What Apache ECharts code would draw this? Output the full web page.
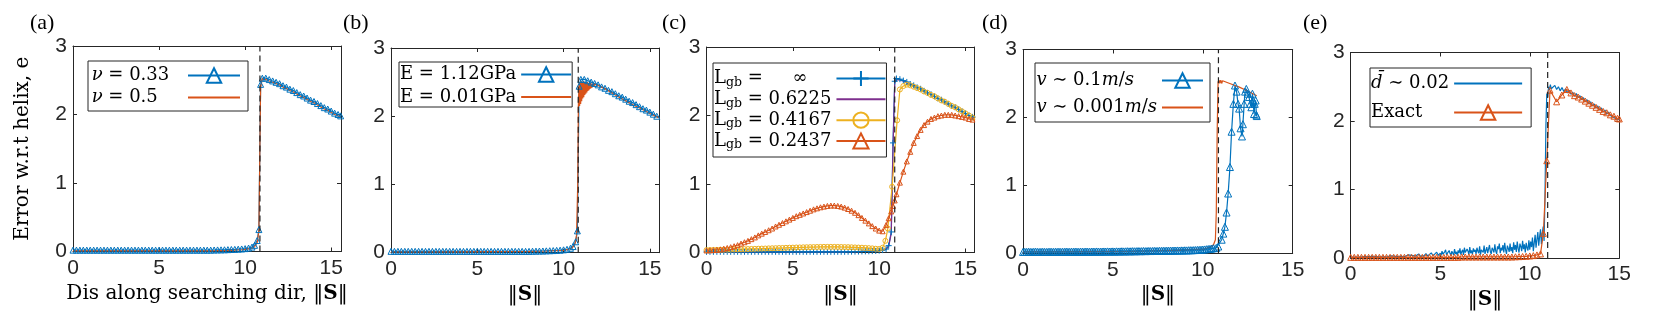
<!DOCTYPE html>
<html><head><meta charset="utf-8">
<script src="https://cdn.jsdelivr.net/npm/echarts@6/dist/echarts.min.js"></script>
<style>html,body{margin:0;padding:0;background:#fff}#c{width:1661px;height:319px}</style>
</head><body><div id="c"></div><script>
// ---------------- DATA ----------------
const xs1 = [0,0.2,0.4,0.6,0.8,1,1.2,1.4,1.6,1.8,2,2.2,2.4,2.6,2.8,3,3.2,3.4,3.6,3.8,4,4.2,4.4,4.6,4.8,5,5.2,5.4,5.6,5.8,6,6.2,6.4,6.6,6.8,7,7.2,7.4,7.6,7.8,8,8.2,8.4,8.6,8.8,9,9.2,9.4,9.6,9.8,10,10.2,10.4,
  10.55,10.7,10.8,10.9,11,
  11.2,11.4,11.6,11.8,12,12.2,12.4,12.6,12.8,13,13.2,13.4,13.6,13.8,14,14.2,14.4,14.6,14.8,15,15.2,15.4,15.55];
// (a)
const aNu033 = [0.02,0.02,0.02,0.02,0.02,0.02,0.02,0.02,0.02,0.02,0.02,0.02,0.02,0.02,0.02,0.02,0.02,0.02,0.02,0.02,0.02,0.02,0.02,0.02,0.02,0.02,0.02,0.02,0.02,0.02,0.02,0.02,0.02,0.02,0.02,0.02,0.02,0.02,0.02,0.02,0.02,
  0.022,0.023,0.024,0.025,0.027,0.029,0.031,0.034,0.037,0.042,0.05,0.065,
  0.09,0.16,0.32,2.44,2.53,
  2.53,2.51,2.49,2.47,2.45,2.42,2.40,2.37,2.35,2.32,2.29,2.27,2.24,2.21,2.19,2.16,2.13,2.10,2.08,2.05,2.02,2.00,1.98];
const aNu05 = [0.01,0.01,0.01,0.01,0.01,0.01,0.01,0.01,0.01,0.01,0.01,0.01,0.01,0.01,0.01,0.01,0.01,0.01,0.01,0.01,0.01,0.01,0.01,0.01,0.01,0.01,0.01,0.01,0.01,0.01,0.01,0.01,0.01,0.01,0.01,0.01,0.01,0.01,0.01,0.01,0.01,
  0.011,0.012,0.013,0.014,0.015,0.017,0.019,0.022,0.025,0.03,0.037,0.05,
  0.07,0.13,0.3,2.4,2.52,
  2.51,2.49,2.47,2.45,2.43,2.40,2.38,2.35,2.33,2.30,2.27,2.25,2.22,2.19,2.17,2.14,2.11,2.08,2.06,2.03,2.00,1.98,1.97];
// (b)
const bE112 = [0.02,0.02,0.02,0.02,0.02,0.02,0.02,0.02,0.02,0.02,0.02,0.02,0.02,0.02,0.02,0.02,0.02,0.02,0.02,0.02,0.02,0.02,0.02,0.02,0.02,0.02,0.02,0.02,0.02,0.02,0.02,0.02,0.02,0.02,0.02,0.02,0.02,0.02,0.02,0.02,0.02,
  0.022,0.023,0.024,0.025,0.027,0.029,0.031,0.034,0.037,0.042,0.05,0.065,
  0.09,0.16,0.32,2.44,2.54,
  2.54,2.52,2.50,2.48,2.46,2.43,2.41,2.38,2.36,2.33,2.30,2.28,2.25,2.22,2.20,2.17,2.14,2.11,2.09,2.06,2.03,2.00,1.98];
const bE001X = [0,2,4,6,8,9,9.6,10,10.3,10.5,10.65,10.75,10.82,10.86,10.9,
  10.93,10.96,10.99,11.02,11.05,11.08,11.11,11.14,11.17,11.2,11.23,11.26,11.29,11.32,11.35,11.38,11.41,11.44,11.47,11.5,11.53,11.56,11.59,11.62,11.65,11.68,11.71,11.74,11.77,11.8,
  11.85,11.9,12,12.5,13,13.5,14,14.5,15,15.5];
const bE001Y = [0.01,0.01,0.012,0.015,0.02,0.025,0.03,0.035,0.05,0.07,0.12,0.25,1.0,2.2,2.5,
  2.15,2.5,2.18,2.51,2.22,2.51,2.26,2.51,2.28,2.51,2.31,2.5,2.33,2.5,2.35,2.5,2.37,2.49,2.38,2.49,2.4,2.49,2.41,2.48,2.42,2.48,2.43,2.47,2.44,2.47,
  2.45,2.46,2.45,2.39,2.31,2.24,2.17,2.11,2.04,1.98];
// (c)
const cInf = [0.01,0.01,0.01,0.01,0.01,0.01,0.01,0.01,0.01,0.01,0.01,0.01,0.01,0.01,0.01,0.01,0.01,0.01,0.01,0.01,0.01,0.01,0.01,0.01,0.01,0.01,0.01,0.01,0.01,0.01,0.01,0.01,0.01,0.01,0.01,0.01,0.01,0.01,0.01,0.01,0.01,
  0.011,0.012,0.013,0.014,0.015,0.016,0.018,0.02,0.023,0.027,0.035,0.05,
  0.1,0.3,1.6,2.5,2.54,
  2.53,2.51,2.49,2.46,2.44,2.41,2.39,2.36,2.33,2.31,2.28,2.25,2.23,2.20,2.17,2.14,2.12,2.09,2.06,2.03,2.00,1.98,1.96];
const c06225 = [0.01,0.01,0.01,0.01,0.01,0.01,0.01,0.01,0.01,0.01,0.01,0.01,0.01,0.01,0.01,0.01,0.01,0.01,0.01,0.01,0.01,0.01,0.01,0.01,0.01,0.01,0.01,0.01,0.01,0.01,0.01,0.01,0.01,0.01,0.01,0.01,0.01,0.01,0.01,0.01,0.01,
  0.011,0.012,0.013,0.014,0.015,0.016,0.018,0.02,0.023,0.027,0.035,0.05,
  0.09,0.28,1.5,2.48,2.52,
  2.52,2.50,2.48,2.45,2.43,2.40,2.38,2.35,2.33,2.30,2.27,2.25,2.22,2.19,2.16,2.14,2.11,2.08,2.05,2.02,2.00,1.97,1.96];
const c04167X = [0,0.2,0.4,0.6,0.8,1,1.2,1.4,1.6,1.8,2,2.2,2.4,2.6,2.8,3,3.2,3.4,3.6,3.8,4,4.2,4.4,4.6,4.8,5,5.2,5.4,5.6,5.8,6,6.2,6.4,6.6,6.8,7,7.2,7.4,7.6,7.8,8,8.2,8.4,8.6,8.8,9,9.2,9.4,9.6,9.8,10,10.2,
  10.36,10.5,10.75,11.04,11.2,
  11.4,11.6,11.8,12,12.2,12.4,12.6,12.8,13,13.2,13.4,13.6,13.8,14,14.2,14.4,14.6,14.8,15,15.2,15.4,15.55];
const c04167 = [0.035,0.036,0.037,0.038,0.04,0.041,0.042,0.043,0.045,0.046,0.047,0.049,0.05,0.052,0.053,0.055,0.057,0.058,0.06,0.062,0.063,0.065,0.066,0.068,0.07,0.071,0.073,0.074,0.076,0.077,0.078,0.079,0.08,0.081,0.082,0.082,0.082,0.082,0.081,0.08,0.079,0.078,0.076,0.074,0.072,0.07,0.067,0.064,0.06,0.055,0.052,0.07,
  0.17,0.35,0.96,1.93,2.38,
  2.43,2.45,2.44,2.42,2.40,2.38,2.35,2.33,2.30,2.28,2.25,2.22,2.20,2.17,2.14,2.12,2.09,2.06,2.03,2.00,1.97,1.94];
const c02437 = [0.03,0.032,0.035,0.039,0.045,0.055,0.066,0.078,0.092,0.107,0.13,0.15,0.17,0.195,0.22,0.25,0.275,0.3,0.325,0.35,0.38,0.405,0.43,0.455,0.48,0.505,0.53,0.55,0.57,0.59,0.61,0.63,0.645,0.66,0.67,0.68,0.685,0.685,0.68,0.67,0.655,0.635,0.61,0.58,0.545,0.505,0.465,0.425,0.385,0.35,0.32,0.31,0.4,
  0.5,0.6,0.68,0.76,0.85,
  1.02,1.18,1.33,1.47,1.6,1.7,1.79,1.86,1.91,1.95,1.97,1.99,2.0,2.01,2.01,2.01,2.0,1.99,1.98,1.97,1.95,1.94,1.93];
// (d)
const dV01X = [0,0.1,0.2,0.3,0.4,0.5,0.6,0.7,0.8,0.9,1,1.1,1.2,1.3,1.4,1.5,1.6,1.7,1.8,1.9,2,2.1,2.2,2.3,2.4,2.5,2.6,2.7,2.8,2.9,3,3.1,3.2,3.3,3.4,3.5,3.6,3.7,3.8,3.9,4,4.1,4.2,4.3,4.4,4.5,4.6,4.7,4.8,4.9,
  5,5.1,5.2,5.3,5.4,5.5,5.6,5.7,5.8,5.9,6,6.1,6.2,6.3,6.4,6.5,6.6,6.7,6.8,6.9,7,7.1,7.2,7.3,7.4,7.5,7.6,7.7,7.8,7.9,8,8.1,8.2,8.3,8.4,8.5,8.6,8.7,8.8,8.9,9,9.1,9.2,9.3,9.4,9.5,9.6,9.7,9.8,9.9,10,10.1,10.2,10.3,10.4,10.5,10.6,
  10.75,10.86,11.05,11.14,11.23,11.32,11.41,11.51,11.6,11.7,11.79,11.88,11.96,12.02,12.1,12.18,12.23,12.3,12.35,12.42,12.5,12.57,12.64,12.7,12.76,12.8,12.85,12.89,12.94,12.98,13.0];
const dV01 = [0.02,0.022,0.02,0.023,0.021,0.02,0.022,0.024,0.021,0.02,0.022,0.023,0.021,0.02,0.022,0.024,0.022,0.021,0.023,0.022,0.024,0.021,0.023,0.022,0.025,0.023,0.022,0.024,0.023,0.025,
  0.024,0.022,0.025,0.024,0.023,0.026,0.024,0.023,0.025,0.026,0.024,0.027,0.025,0.024,0.026,0.027,0.025,0.028,0.026,0.027,
  0.028,0.026,0.029,0.027,0.028,0.03,0.028,0.029,0.031,0.029,0.03,0.032,0.03,0.031,0.033,0.031,0.032,0.034,0.032,0.033,
  0.035,0.033,0.034,0.036,0.034,0.035,0.037,0.036,0.038,0.037,0.039,0.038,0.04,0.039,0.041,0.04,0.042,0.041,0.043,0.042,
  0.044,0.043,0.045,0.046,0.045,0.047,0.048,0.05,0.051,0.053,0.055,0.057,0.06,0.063,0.066,0.07,0.075,
  0.08,0.1,0.2,0.29,0.39,0.6,0.88,1.27,1.79,2.2,2.47,2.38,2.2,2.13,1.84,1.72,1.9,2.2,2.38,2.42,2.35,2.3,2.2,2.15,2.35,2.25,2.05,2.2,2.25,2.04,2.02];
const dV0001X = [0,2,4,6,8,9,10,10.3,10.5,10.6,10.7,10.75,10.8,10.85,10.9,10.95,11,11.05,11.1,11.2,11.5,12,12.5,13];
const dV0001 = [0.02,0.022,0.025,0.03,0.04,0.05,0.06,0.08,0.1,0.13,0.2,0.6,1.8,2.52,2.55,2.5,2.55,2.5,2.54,2.53,2.5,2.45,2.39,2.32];
// (e)
const eD002X = [0,0.1,0.2,0.3,0.4,0.5,0.6,0.7,0.8,0.9,1,1.1,1.2,1.3,1.4,1.5,1.6,1.7,1.8,1.9,2,2.1,2.2,2.3,2.4,2.5,2.6,2.7,2.8,2.9,3,3.1,3.2,3.3,3.4,3.5,3.6,3.7,3.8,3.9,4,4.1,4.2,4.3,4.4,4.5,4.6,4.7,4.8,4.9,
  5,5.05,5.1,5.15,5.2,5.25,5.3,5.35,5.4,5.45,5.5,5.55,5.6,5.65,5.7,5.75,5.8,5.85,5.9,5.95,
  6,6.05,6.1,6.15,6.2,6.25,6.3,6.35,6.4,6.45,6.5,6.55,6.6,6.65,6.7,6.75,6.8,6.85,6.9,6.95,
  7,7.05,7.1,7.15,7.2,7.25,7.3,7.35,7.4,7.45,7.5,7.55,7.6,7.65,7.7,7.75,7.8,7.85,7.9,7.95,
  8,8.05,8.1,8.15,8.2,8.25,8.3,8.35,8.4,8.45,8.5,8.55,8.6,8.65,8.7,8.75,8.8,8.85,8.9,8.95,
  9,9.05,9.1,9.15,9.2,9.25,9.3,9.35,9.4,9.45,9.5,9.55,9.6,9.65,9.7,9.75,9.8,9.85,9.9,9.95,
  10,10.05,10.1,10.15,10.2,10.25,10.3,10.35,10.4,10.45,10.5,10.55,10.6,10.65,10.7,10.75,10.8,
  10.85,10.9,10.95,11,11.05,11.1,11.15,11.2,
  11.3,11.4,11.5,11.6,11.7,11.8,11.9,12,12.1,12.2,12.3,12.4,12.5,12.6,12.7,12.8,12.9,13,13.1,13.2,13.3,13.4,13.5,13.6,13.7,13.8,13.9,14,14.1,14.2,14.3,14.4,14.5,14.6,14.7,14.8,14.9,15];
const eD002 = [0.01,0.015,0.012,0.018,0.014,0.02,0.016,0.013,0.019,0.015,
  0.021,0.017,0.024,0.014,0.02,0.026,0.016,0.022,0.018,0.027,
  0.015,0.023,0.03,0.018,0.026,0.034,0.02,0.029,0.024,0.037,
  0.019,0.03,0.045,0.022,0.038,0.052,0.027,0.041,0.06,0.025,
  0.048,0.035,0.065,0.03,0.055,0.075,0.032,0.06,0.085,0.038,
  0.07,0.04,0.1,0.055,0.03,0.09,0.12,0.05,0.075,0.04,0.11,0.065,0.035,0.1,0.08,0.045,0.13,0.06,0.09,0.04,
  0.11,0.07,0.14,0.05,0.09,0.12,0.045,0.15,0.08,0.06,0.13,0.1,0.05,0.16,0.07,0.11,0.055,0.14,0.09,0.12,
  0.06,0.15,0.1,0.07,0.17,0.05,0.12,0.14,0.08,0.18,0.06,0.11,0.16,0.07,0.13,0.19,0.09,0.06,0.15,0.12,
  0.08,0.2,0.1,0.06,0.17,0.13,0.21,0.07,0.15,0.11,0.19,0.08,0.22,0.12,0.06,0.18,0.14,0.09,0.21,0.1,
  0.16,0.07,0.23,0.12,0.19,0.09,0.24,0.14,0.08,0.21,0.17,0.1,0.25,0.13,0.2,0.08,0.22,0.15,0.11,0.26,
  0.12,0.24,0.16,0.3,0.1,0.22,0.34,0.15,0.27,0.38,0.18,0.31,0.42,0.2,0.36,0.46,0.25,
  0.9,1.9,2.4,2.35,2.5,2.45,2.53,2.47,
  2.47,2.52,2.46,2.5,2.44,2.49,2.43,2.47,2.41,2.45,2.39,2.42,2.36,2.4,2.34,2.37,2.31,2.34,2.28,2.31,2.25,2.28,2.22,2.25,2.19,2.22,2.16,2.19,2.13,2.16,2.1,2.13,2.08,2.1,2.05,2.07,2.02,2.03];
const eExactX = [0,0.2,0.4,0.6,0.8,1,1.2,1.4,1.6,1.8,2,2.2,2.4,2.6,2.8,3,3.2,3.4,3.6,3.8,4,4.2,4.4,4.6,4.8,5,5.2,5.4,5.6,5.8,6,6.2,6.4,6.6,6.8,7,7.2,7.4,7.6,7.8,8,8.2,8.4,8.6,8.8,9,9.2,9.4,9.6,9.8,10,10.2,10.4,
  10.6,10.76,10.95,11.13,11.5,11.79,12.07,12.3,12.5,12.7,12.9,13.1,13.3,13.5,13.7,13.9,14.1,14.3,14.5,14.7,14.9,15];
const eExact = [0.01,0.01,0.01,0.01,0.01,0.01,0.01,0.01,0.01,0.01,0.01,0.01,0.01,0.01,0.01,0.01,0.01,0.01,0.01,0.01,0.01,0.01,0.01,0.01,0.01,0.01,0.01,0.01,0.01,0.01,0.01,
  0.015,0.015,0.015,0.015,0.015,0.015,0.015,0.015,0.015,0.015,0.015,0.015,0.015,0.015,0.015,
  0.018,0.02,0.022,0.025,0.03,0.035,0.045,
  0.06,0.36,1.42,2.45,2.28,2.38,2.46,2.41,2.37,2.35,2.32,2.29,2.26,2.23,2.2,2.17,2.14,2.12,2.09,2.07,2.04,2.03];
// vertical dashed reference positions
const dashX = [10.86, 10.85, 10.9, 10.87, 11.0];
const xTicks = [0, 5, 10, 15];
const yTicks = [0, 1, 2, 3];

// ---------------- LAYOUT / STYLE ----------------
const BLUE='#0072BD', RED='#D95319', YEL='#EDB120', PUR='#7E2F8E', AX='#262626';
const grids = [
  {left:73, top:46, width:268, height:205.5, xmax:15.57},
  {left:391, top:48, width:268, height:204.7, xmax:15.53},
  {left:706.5, top:47, width:268, height:205.5, xmax:15.52},
  {left:1023, top:49.5, width:269.7, height:203.8, xmax:15},
  {left:1350.7, top:52.5, width:268.6, height:205.5, xmax:15}
];
const SERIF = 'Liberation Serif', TSERIF = 'DejaVu Serif', SANS = 'Liberation Sans';
const LF = 'DejaVu Serif', LFS = 18;

const cv = document.createElement('canvas').getContext('2d');
function tw(st, t) {
  if (st.width != null) return st.width;
  cv.font = (st.fontStyle || 'normal') + ' ' + (st.fontWeight || 'normal') + ' ' + st.fontSize + 'px "' + st.fontFamily + '"';
  const p = st.padding ? st.padding[1] + st.padding[3] : 0;
  return cv.measureText(t).width + p;
}
function baseRich(L) {
  return {
    r: {fontFamily: LF, fontSize: LFS, lineHeight: L, color: '#000'},
    i: {fontFamily: LF, fontSize: LFS, fontStyle: 'italic', lineHeight: L, color: '#000'},
    eq: {fontFamily: LF, fontSize: LFS, lineHeight: L, color: '#000'},
    sb: {fontFamily: LF, fontSize: 12.5, lineHeight: 10, verticalAlign: 'bottom', color: '#000'}
  };
}
const labelMap = {};
function makeLegend(spec, items) {
  const L = 21;
  const rich = baseRich(L);
  if (spec.extraRich) Object.assign(rich, spec.extraRich(rich, L));
  const nat = items.map(it => it.parts.reduce((s, p) => s + tw(rich[p[0]], p[1]), 0));
  let W = Math.max(spec.iconS - 5 - spec.textL, Math.max.apply(null, nat));
  let padL = Math.max(1, spec.iconS - 5 - W - spec.boxL);
  items.forEach((it, k) => {
    const pad = W - nat[k];
    const key = 'pd' + k;
    rich[key] = {width: Math.max(0, pad), lineHeight: L};
    labelMap[it.name] = it.parts.map(p => '{' + p[0] + '|' + p[1] + '}').join('') + '{' + key + '|}';
  });
  const n = items.length;
  const gap = n > 1 ? (spec.centers[n - 1] - spec.centers[0]) / (n - 1) - L : 0;
  const padT = spec.centers[0] - L / 2 - spec.boxT;
  const padB = spec.boxB - (spec.centers[n - 1] + L / 2);
  const padR = spec.boxR - spec.iconE;
  return {
    data: items.map(it => it.name), orient: 'vertical', align: 'right',
    left: spec.boxL, top: spec.boxT,
    itemWidth: spec.iconE - spec.iconS, itemHeight: spec.itemH || 18, itemGap: gap,
    padding: [padT, padR, padB, padL],
    borderColor: AX, borderWidth: 1, backgroundColor: '#fff',
    selectedMode: false, formatter: nm => labelMap[nm],
    textStyle: {rich: rich, fontFamily: LF, fontSize: LFS, color: '#000'},
    lineStyle: {width: 2}, itemStyle: {borderWidth: 2}
  };
}

const legends = [
  makeLegend({boxL:88, boxT:61, boxR:247, boxB:117, textL:91.7, iconS:188, iconE:240, centers:[77,102]}, [
    {name:'ν = 0.33', parts:[['i','ν'],['r',' '],['eq','='],['r',' 0.33']]},
    {name:'ν = 0.5', parts:[['i','ν'],['r',' '],['eq','='],['r',' 0.5']]}]),
  makeLegend({boxL:399, boxT:62, boxR:567, boxB:113, textL:401.7, iconS:517, iconE:567, centers:[76,101.5]}, [
    {name:'E = 1.12GPa', parts:[['r','E '],['eq','='],['r',' 1.12GPa']]},
    {name:'E = 0.01GPa', parts:[['r','E '],['eq','='],['r',' 0.01GPa']]}]),
  makeLegend({boxL:713, boxT:63, boxR:882, boxB:163, textL:725, iconS:833, iconE:882, centers:[80,103,124.5,147], itemH:19,
    extraRich: (r, L) => ({vc: {fontFamily: LF, fontSize: LFS, lineHeight: L, color: '#000', align: 'center', width: tw(r.r, '0.6225')}})}, [
    {name:'Lgb = ∞', parts:[['r','L'],['sb','gb'],['r',' '],['eq','='],['r',' '],['vc','∞']]},
    {name:'Lgb = 0.6225', parts:[['r','L'],['sb','gb'],['r',' '],['eq','='],['r',' 0.6225']]},
    {name:'Lgb = 0.4167', parts:[['r','L'],['sb','gb'],['r',' '],['eq','='],['r',' 0.4167']]},
    {name:'Lgb = 0.2437', parts:[['r','L'],['sb','gb'],['r',' '],['eq','='],['r',' 0.2437']]}]),
  makeLegend({boxL:1035, boxT:63, boxR:1209, boxB:128, textL:1040, iconS:1162, iconE:1203, centers:[82,112]}, [
    {name:'v ∼ 0.1m/s', parts:[['i','v'],['r',' '],['eq','∼'],['r',' 0.1'],['i','m'],['r','/'],['i','s']]},
    {name:'v ∼ 0.001m/s', parts:[['i','v'],['r',' '],['eq','∼'],['r',' 0.001'],['i','m'],['r','/'],['i','s']]}]),
  makeLegend({boxL:1370, boxT:68, boxR:1523, boxB:133, textL:1376.7, iconS:1447, iconE:1515, centers:[85,117]}, [
    {name:'d̄ ∼ 0.02', parts:[['i','d\u0304'],['r',' '],['eq','∼'],['r',' 0.02']]},
    {name:'Exact', parts:[['r','Exact']]}])
];

function zip(xs, ys) { return xs.map((x, i) => [x, ys[i]]); }
function ser(name, gi, data, color, mark) {
  const s = {type:'line', name, xAxisIndex: 2 * gi, yAxisIndex: 2 * gi, data,
    lineStyle: {color, width: 1.2}, silent: true, animation: false, emphasis: {disabled: true}, z: 3};
  if (mark) {
    s.symbol = mark.symbol; s.symbolSize = mark.size; s.showSymbol = true;
    s.itemStyle = {color: 'rgba(0,0,0,0)', borderColor: color, borderWidth: 1};
  } else {
    s.symbol = 'line'; s.showSymbol = false; s.itemStyle = {color};
  }
  return s;
}
const TRI = 'triangle', PLUS = 'path://M5,0L5,10M0,5L10,5';
const series = [
  ser('ν = 0.33', 0, zip(xs1, aNu033), BLUE, {symbol: TRI, size: 6}),
  ser('ν = 0.5', 0, zip(xs1, aNu05), RED),
  ser('E = 1.12GPa', 1, zip(xs1, bE112), BLUE, {symbol: TRI, size: 6}),
  ser('E = 0.01GPa', 1, zip(bE001X, bE001Y), RED),
  ser('Lgb = ∞', 2, zip(xs1, cInf), BLUE, {symbol: PLUS, size: 6}),
  ser('Lgb = 0.6225', 2, zip(xs1, c06225), PUR),
  ser('Lgb = 0.4167', 2, zip(c04167X, c04167), YEL, {symbol: 'circle', size: 5}),
  ser('Lgb = 0.2437', 2, zip(xs1, c02437), RED, {symbol: TRI, size: 5}),
  ser('v ∼ 0.1m/s', 3, zip(dV01X, dV01), BLUE, {symbol: TRI, size: 7}),
  ser('v ∼ 0.001m/s', 3, zip(dV0001X, dV0001), RED),
  ser('d̄ ∼ 0.02', 4, zip(eD002X, eD002), BLUE),
  ser('Exact', 4, zip(eExactX, eExact), RED, {symbol: TRI, size: 6})
];
dashX.forEach((xd, gi) => series.push({type:'line', xAxisIndex: 2 * gi, yAxisIndex: 2 * gi,
  data: [[xd, yTicks[0]], [xd, yTicks[yTicks.length - 1]]], symbol: 'none', silent: true, animation: false, z: 6,
  lineStyle: {color: '#222', width: 1.2, type: [6, 4]}}));

const xAxes = [], yAxes = [];
const axLine = {show: true, onZero: false, lineStyle: {color: AX, width: 1}};
const axTick = {show: true, inside: true, length: 4, lineStyle: {color: AX, width: 1}};
const tickFmt = v => (xTicks.indexOf(Math.round(v * 1000) / 1000) >= 0 ? String(v) : '');
const yFmt = v => (yTicks.indexOf(Math.round(v * 1000) / 1000) >= 0 ? String(v) : '');
const labStyle = {fontFamily: SANS, fontSize: 21, color: AX};
const sName = '‖{b|S}‖';
const nameStyle = {fontFamily: TSERIF, fontSize: 20, color: '#000', rich: {b: {fontFamily: TSERIF, fontSize: 20, fontWeight: 'bold', color: '#000'}}};
grids.forEach((g, gi) => {
  xAxes.push({type:'value', gridIndex: gi, position:'bottom', min: 0, max: g.xmax, interval: 5,
    axisLine: axLine, axisTick: axTick, splitLine: {show: false},
    axisLabel: Object.assign({margin: 6, formatter: tickFmt, showMaxLabel: true}, labStyle),
    name: gi === 0 ? 'Dis along searching dir, ' + sName : sName, nameLocation: 'middle', nameGap: 25, nameTextStyle: nameStyle});
  xAxes.push({type:'value', gridIndex: gi, position:'top', min: 0, max: g.xmax, interval: 5,
    axisLine: axLine, axisTick: axTick, splitLine: {show: false}, axisLabel: {show: false}});
  const y = {type:'value', gridIndex: gi, position:'left', min: 0, max: 3, interval: 1,
    axisLine: axLine, axisTick: axTick, splitLine: {show: false},
    axisLabel: Object.assign({margin: 6, formatter: yFmt}, labStyle)};
  if (gi === 0) Object.assign(y, {name: 'Error w.r.t helix, e', nameLocation: 'middle', nameGap: 40,
    nameTextStyle: {fontFamily: TSERIF, fontSize: 20, color: '#000'}});
  yAxes.push(y);
  yAxes.push({type:'value', gridIndex: gi, position:'right', min: 0, max: 3, interval: 1,
    axisLine: axLine, axisTick: axTick, splitLine: {show: false}, axisLabel: {show: false}});
});

const tags = [['(a)', 30], ['(b)', 343], ['(c)', 662], ['(d)', 982], ['(e)', 1303]];
const chart = echarts.init(document.getElementById('c'), null, {renderer: 'canvas'});
chart.setOption({
  animation: false,
  backgroundColor: '#fff',
  grid: grids.map(g => ({left: g.left, top: g.top, width: g.width, height: g.height, containLabel: false, outerBoundsMode: 'none'})),
  xAxis: xAxes, yAxis: yAxes,
  legend: legends,
  series: series,
  graphic: tags.map(t => ({type: 'text', left: t[1], top: 12, silent: true,
    style: {text: t[0], fontFamily: SERIF, fontSize: 22, fill: '#000'}}))
});
</script></body></html>
